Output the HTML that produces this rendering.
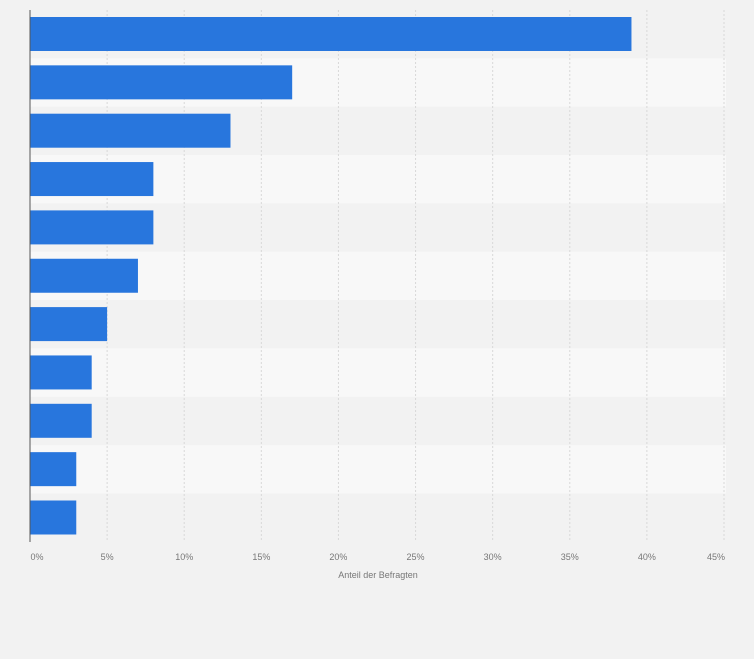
<!DOCTYPE html>
<html><head><meta charset="utf-8"><style>
body{margin:0;background:#f2f2f2;}
svg{display:block;font-family:"Liberation Sans",sans-serif;}
</style></head><body>
<svg id="chart" width="754" height="659" xmlns="http://www.w3.org/2000/svg"></svg>
<script>
const categories=["c1","c2","c3","c4","c5","c6","c7","c8","c9","c10","c11"];
const values=[39,17,13,8,8,7,5,4,4,3,3];
const ticks=[0,5,10,15,20,25,30,35,40,45];
const tickLabels=["0%","5%","10%","15%","20%","25%","30%","35%","40%","45%"];
const NS="http://www.w3.org/2000/svg";
const svgEl=document.getElementById('chart');
const x0=30,pxPer=(724-30)/45,plotTop=10,band=48.35;
const xs=v=>x0+v*pxPer;
function mk(t,a){const e=document.createElementNS(NS,t);for(const k in a)e.setAttribute(k,a[k]);svgEl.appendChild(e);return e;}
categories.forEach((c,i)=>{
  if(i%2===1){const r=mk('rect',{x:x0,y:plotTop+i*band,width:696,height:band,fill:'#f8f8f8'});
  
  }
});
ticks.forEach((t,i)=>{
  if(i>0){const g=mk('line',{x1:xs(t),x2:xs(t),y1:plotTop,y2:542,stroke:'#d8d8d8','stroke-dasharray':'2,2'});
  
  }
  const l=mk('text',{x:xs(t)+(i===0?7:i===9?-8:0),y:560,'font-size':9,fill:'#777','text-anchor':'middle'});
  l.textContent=tickLabels[i];
  
  
});
values.forEach((v,i)=>{
  const b=mk('rect',{x:x0,y:plotTop+i*band+7,width:xs(v)-x0,height:34,fill:'#2876dd'});
  
  
});
const ax=mk('line',{x1:x0,x2:x0,y1:plotTop,y2:542,stroke:'#555','stroke-width':1});


const tt=mk('text',{x:378,y:578,'font-size':9,fill:'#777','text-anchor':'middle'});
tt.textContent='Anteil der Befragten';


</script>
</body></html>
